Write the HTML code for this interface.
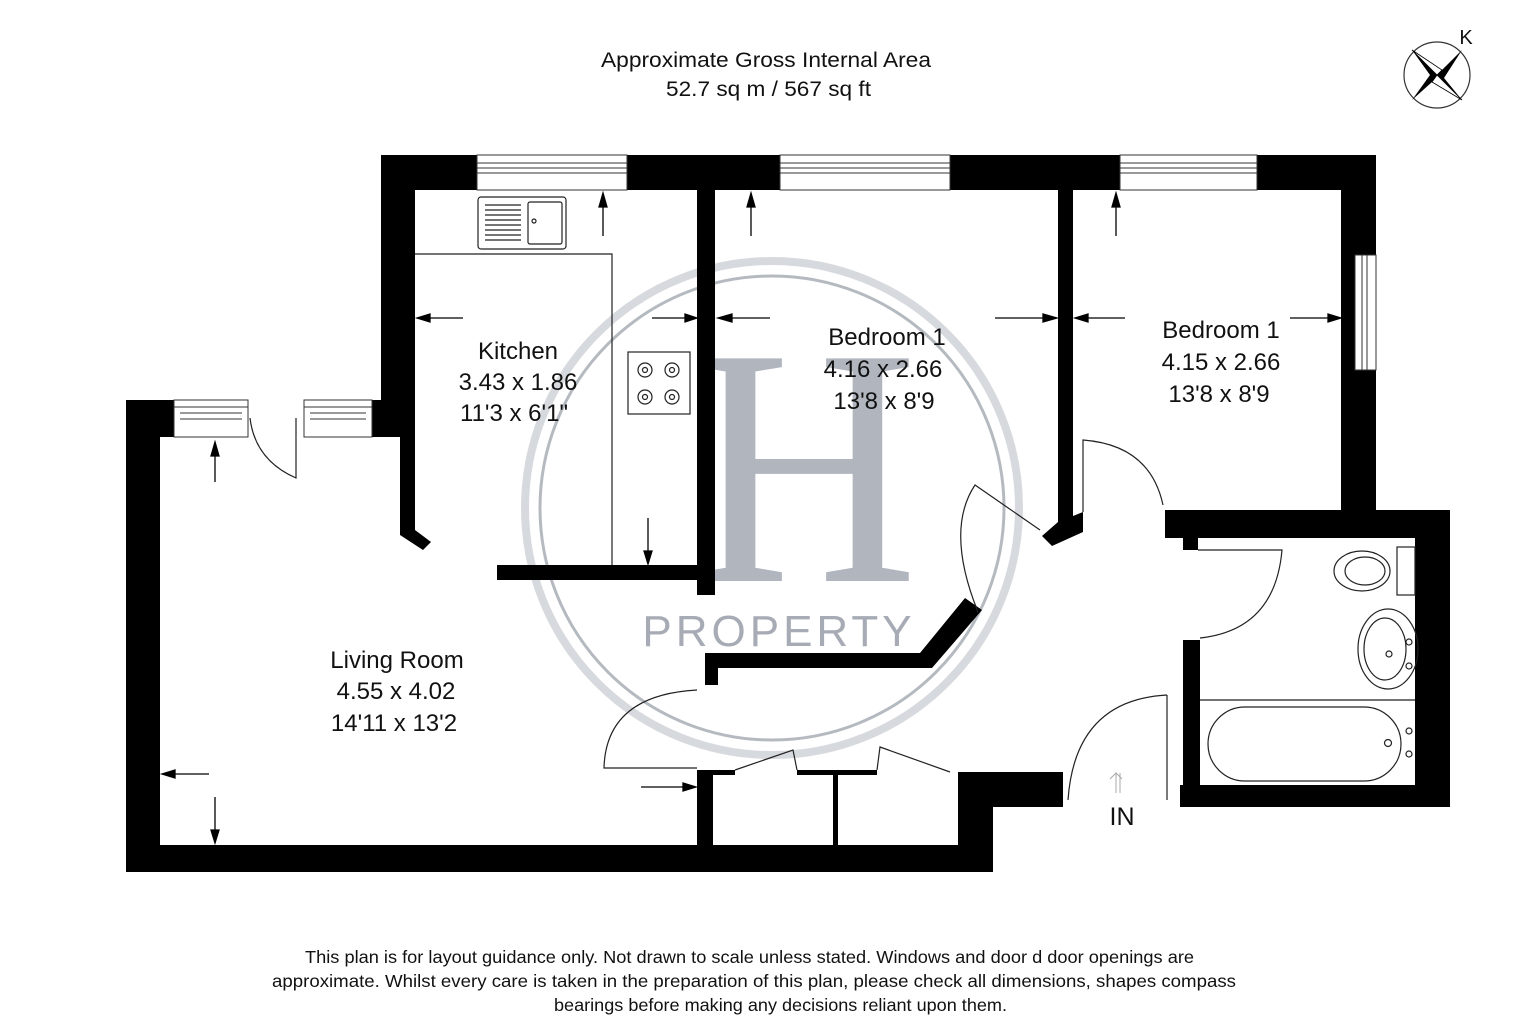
<!DOCTYPE html>
<html><head><meta charset="utf-8"><style>
html,body{margin:0;padding:0;background:#fff;}
svg{display:block;}
text{font-family:"Liberation Sans",Arial,sans-serif;fill:#111;}
</style></head><body>
<svg width="1536" height="1024" viewBox="0 0 1536 1024" xmlns="http://www.w3.org/2000/svg">
<rect width="1536" height="1024" fill="#fff"/>

<!-- watermark -->
<g opacity="0.9">
<ellipse cx="772" cy="508" rx="247" ry="247" fill="none" stroke="#d2d5da" stroke-width="8"/>
<ellipse cx="772" cy="508" rx="232" ry="232" fill="none" stroke="#aeb3bb" stroke-width="3"/>
<text x="690" y="581" font-size="340" textLength="228" lengthAdjust="spacingAndGlyphs" style="fill:#a9aeb7;font-family:'Liberation Serif',serif">H</text>
<text x="779" y="646" font-size="44" text-anchor="middle" style="fill:#9ea3ad;letter-spacing:4px">PROPERTY</text>
</g>

<g fill="#000">
<rect x="381" y="155" width="995" height="35"/>
<rect x="381" y="155" width="34" height="245"/>
<rect x="372" y="400" width="43" height="37"/>
<rect x="400" y="437" width="15" height="98"/>
<polygon points="400,535 415,530 431,542 423,550"/>
<rect x="126" y="400" width="34" height="472"/>
<rect x="126" y="400" width="48" height="37"/>
<rect x="126" y="845" width="867" height="27"/>
<rect x="497" y="565" width="215" height="15"/>
<rect x="697" y="190" width="18" height="405"/>
<rect x="1058" y="190" width="15" height="340"/>
<polygon points="1058,522 1083,512 1083,532 1052,546 1042,536"/>
<rect x="1341" y="155" width="35" height="370"/>
<rect x="1165" y="510" width="285" height="28"/>
<rect x="1183" y="538" width="15" height="12"/>
<rect x="1415" y="510" width="35" height="297"/>
<rect x="1180" y="785" width="270" height="22"/>
<rect x="1183" y="640" width="17" height="167"/>
<rect x="993" y="772" width="70" height="35"/>
<rect x="958" y="772" width="35" height="100"/>
<rect x="697" y="770" width="16" height="102"/>
<rect x="713" y="770" width="22" height="5"/>
<rect x="797" y="770" width="80" height="5"/>
<rect x="833" y="772" width="5" height="73"/>
<polygon points="705,653 920,653 965,598 982,610 932,668 718,668 718,685 705,685"/>
</g>

<g fill="#fff" stroke="#333" stroke-width="1">
<rect x="477" y="155" width="150" height="35"/><line x1="477" y1="163" x2="627" y2="163"/><line x1="477" y1="168" x2="627" y2="168"/><line x1="477" y1="173" x2="627" y2="173"/>
<rect x="780" y="155" width="170" height="35"/><line x1="780" y1="163" x2="950" y2="163"/><line x1="780" y1="168" x2="950" y2="168"/><line x1="780" y1="173" x2="950" y2="173"/>
<rect x="1120" y="155" width="137" height="35"/><line x1="1120" y1="163" x2="1257" y2="163"/><line x1="1120" y1="168" x2="1257" y2="168"/><line x1="1120" y1="173" x2="1257" y2="173"/>
<rect x="1355" y="255" width="21" height="115"/><line x1="1362" y1="255" x2="1362" y2="370"/><line x1="1367" y1="255" x2="1367" y2="370"/>
<rect x="174" y="400" width="74" height="37"/><line x1="174" y1="407" x2="248" y2="407"/><line x1="180" y1="413" x2="242" y2="413"/><line x1="180" y1="419" x2="242" y2="419"/>
<rect x="304" y="400" width="68" height="37"/><line x1="304" y1="407" x2="372" y2="407"/><line x1="310" y1="413" x2="366" y2="413"/><line x1="310" y1="419" x2="366" y2="419"/>
</g>

<g fill="none" stroke="#222" stroke-width="1.2">
<path d="M250,418 Q255,460 296,478 L296,418"/>
<path d="M1040,530 L975,485 Q945,530 978,612"/>
<path d="M1083,512 L1083,440 Q1150,445 1163,505"/>
<path d="M1198,550 L1282,550 Q1275,630 1200,638"/>
<path d="M1167,695 L1167,800 M1167,695 Q1075,700 1068,800"/>
<path d="M697,768 L604,768 Q606,695 697,690"/>
<path d="M735,770 L793,750 L797,770"/>
<path d="M877,770 L880,747 L950,772"/>
<path d="M415,254 L612,254 L612,565"/>
<rect x="478" y="197" width="88" height="52" rx="3"/>
<rect x="528" y="202" width="34" height="42" rx="2"/>
<path d="M485,205h36M485,210h36M485,215h36M485,220h36M485,225h36M485,230h36M485,235h36M485,240h36"/>
<circle cx="534" cy="221" r="2"/>
<rect x="628" y="352" width="62" height="62"/>
<circle cx="645" cy="370" r="7"/><circle cx="672" cy="370" r="7"/><circle cx="645" cy="397" r="7"/><circle cx="672" cy="397" r="7"/>
<circle cx="645" cy="370" r="2.5"/><circle cx="672" cy="370" r="2.5"/><circle cx="645" cy="397" r="2.5"/><circle cx="672" cy="397" r="2.5"/>
<rect x="1397" y="547" width="18" height="48"/>
<ellipse cx="1362" cy="571" rx="28" ry="20"/><ellipse cx="1365" cy="571" rx="20" ry="14"/>
<ellipse cx="1388" cy="649" rx="30" ry="40"/><ellipse cx="1385" cy="649" rx="21" ry="31"/>
<circle cx="1409" cy="642" r="3"/><circle cx="1409" cy="666" r="3"/><circle cx="1389" cy="654" r="3"/>
<line x1="1200" y1="700" x2="1415" y2="700"/>
<rect x="1208" y="707" width="193" height="74" rx="37"/>
<circle cx="1388" cy="743" r="3.5"/><circle cx="1409" cy="731" r="3"/><circle cx="1409" cy="754" r="3"/>
</g>

<g stroke="#000" stroke-width="1.3" fill="#000">
<line x1="603" y1="236" x2="603" y2="200"/><polygon points="599,207 607,207 603,193"/>
<line x1="751" y1="236" x2="751" y2="200"/><polygon points="747,207 755,207 751,193"/>
<line x1="1116" y1="236" x2="1116" y2="200"/><polygon points="1112,207 1120,207 1116,193"/>
<line x1="463" y1="318" x2="425" y2="318"/><polygon points="430,314 430,322 417,318"/>
<line x1="652" y1="318" x2="690" y2="318"/><polygon points="685,314 685,322 697,318"/>
<line x1="770" y1="318" x2="727" y2="318"/><polygon points="732,314 732,322 718,318"/>
<line x1="995" y1="318" x2="1048" y2="318"/><polygon points="1043,314 1043,322 1057,318"/>
<line x1="1125" y1="318" x2="1083" y2="318"/><polygon points="1088,314 1088,322 1075,318"/>
<line x1="1290" y1="318" x2="1333" y2="318"/><polygon points="1328,314 1328,322 1341,318"/>
<line x1="648" y1="518" x2="648" y2="558"/><polygon points="644,551 652,551 648,564"/>
<line x1="215" y1="482" x2="215" y2="450"/><polygon points="211,456 219,456 215,442"/>
<line x1="209" y1="774" x2="170" y2="774"/><polygon points="175,770 175,778 162,774"/>
<line x1="215" y1="797" x2="215" y2="836"/><polygon points="211,830 219,830 215,843"/>
<line x1="641" y1="787" x2="688" y2="787"/><polygon points="683,783 683,791 696,787"/>
</g>
<path d="M1116,793 L1116,773 L1110,779 M1116,773 L1122,779 M1120,793 L1120,773" stroke="#aaa" fill="none" stroke-width="1"/>

<g font-size="24" text-anchor="middle">
<text x="518" y="359">Kitchen</text><text x="518" y="390">3.43 x 1.86</text><text x="514" y="421">11'3 x 6'1"</text>
<text x="887" y="345">Bedroom 1</text><text x="883" y="377">4.16 x 2.66</text><text x="884" y="409">13'8 x 8'9</text>
<text x="1221" y="338">Bedroom 1</text><text x="1221" y="370">4.15 x 2.66</text><text x="1219" y="402">13'8 x 8'9</text>
<text x="397" y="668">Living Room</text><text x="396" y="699">4.55 x 4.02</text><text x="394" y="731">14'11 x 13'2</text>
<text x="1122" y="825" font-size="25">IN</text>
</g>
<text x="601" y="67" font-size="21" textLength="330" lengthAdjust="spacingAndGlyphs">Approximate Gross Internal Area</text>
<text x="666" y="96" font-size="21" textLength="205" lengthAdjust="spacingAndGlyphs">52.7 sq m / 567 sq ft</text>
<g font-size="17.5">
<text x="305" y="963" textLength="889" lengthAdjust="spacingAndGlyphs">This plan is for layout guidance only. Not drawn to  scale unless stated. Windows and door d door openings are</text>
<text x="272" y="987" textLength="964" lengthAdjust="spacingAndGlyphs">approximate. Whilst every care is taken in the preparation of this plan, please check all dimensions,  shapes compass</text>
<text x="554" y="1011" textLength="453" lengthAdjust="spacingAndGlyphs">bearings before making any decisions reliant upon them.</text>
</g>

<circle cx="1437" cy="75" r="33" fill="none" stroke="#333" stroke-width="1.2"/>
<polygon points="1412,50 1442,70 1462,50 1444,78 1462,100 1432,82 1412,100 1430,75" fill="#000"/>
<polygon points="1412,50 1442,70 1437,75" fill="#fff" stroke="#000" stroke-width="0.8"/>
<polygon points="1462,100 1432,82 1437,75" fill="#fff" stroke="#000" stroke-width="0.8"/>
<text x="1466" y="44" font-size="20" text-anchor="middle">K</text>
</svg>
</body></html>
